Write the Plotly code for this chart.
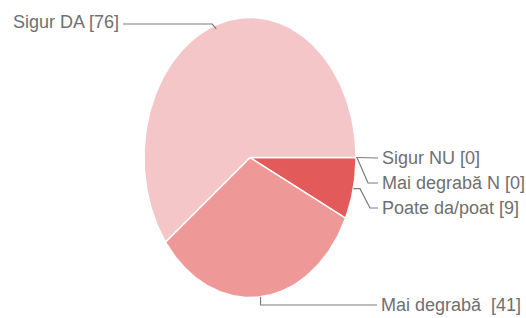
import numpy as np
import plotly.graph_objects as go

# ---- data ----
categories = ["Sigur NU", "Mai degrabă N", "Poate da/poat", "Mai degrabă ", "Sigur DA"]
values = [0, 0, 9, 41, 76]
colors = ["#d94545", "#e04c4c", "#e35a5a", "#ee9898", "#f5c6c7"]
label_texts = [f"{c} [{v}]" for c, v in zip(categories, values)]

# ---- layout constants (pixel-like axis space) ----
W, H = 526, 318
CX, CY, RX, RY = 250, 157.5, 106, 140
START_DEG = 0.0  # 3 o'clock, clockwise on screen (y axis reversed)

def pt(deg):
    r = np.deg2rad(deg)
    return CX + RX * np.cos(r), CY + RY * np.sin(r)

fig = go.Figure()
total = sum(values)
angle = START_DEG
mids = []
for cat, v, col in zip(categories, values, colors):
    span = v / total * 360.0
    a0, a1 = angle, angle + span
    n = max(2, int(span) + 2)
    th = np.linspace(a0, a1, n)
    xs = [CX] + [pt(t)[0] for t in th] + [CX]
    ys = [CY] + [pt(t)[1] for t in th] + [CY]
    fig.add_trace(go.Scatter(x=xs, y=ys, mode="lines", fill="toself",
                             fillcolor=col, line=dict(color="white", width=1.5),
                             hoverinfo="text", text=f"{cat}: {v}", showlegend=False))
    mids.append((a0 + a1) / 2)
    angle = a1

LINE = dict(color="#7a7a7a", width=1.2)
FONT = dict(family="Liberation Sans Narrow, Arial Narrow, Liberation Sans, Arial, sans-serif", size=18, color="#6f6f6f")

def leader(xs, ys):
    fig.add_trace(go.Scatter(x=xs, y=ys, mode="lines", line=LINE, hoverinfo="skip", showlegend=False))

def label(x, y, text, anchor):
    fig.add_annotation(x=x, y=y, text=text, showarrow=False, xanchor=anchor, yanchor="middle",
                       font=FONT, xshift=0)

# Sigur NU
ax, ay = pt(mids[0])
leader([ax, 378], [ay, 158]); label(380, 158, label_texts[0], "left")
# Mai degrabă N
ax, ay = pt(mids[1])
leader([ax, ax + 1, 368, 378], [ay, ay, 183, 183]); label(380, 183, label_texts[1], "left")
# Poate da
ax, ay = pt(mids[2])
leader([ax, 360, 370, 378], [ay, ay, 208, 208]); label(380, 208, label_texts[2], "left")
# Mai degrabă
ax, ay = pt(mids[3])
leader([ax, ax, 377], [ay, 305, 305]); label(379, 305, label_texts[3], "left")
# Sigur DA
ax, ay = pt(mids[4])
leader([ax, ax - 4, 123], [ay + 4, 24, 24]); label(121, 22, label_texts[4], "right")

fig.update_layout(width=W, height=H, margin=dict(l=0, r=0, t=0, b=0),
                  paper_bgcolor="white", plot_bgcolor="white",
                  xaxis=dict(range=[0, W], visible=False, fixedrange=True),
                  yaxis=dict(range=[H, 0], visible=False, fixedrange=True))
fig.write_html("out.html", config={"displayModeBar": False},
               post_script="document.body.style.margin='0';document.body.style.overflow='hidden';")
